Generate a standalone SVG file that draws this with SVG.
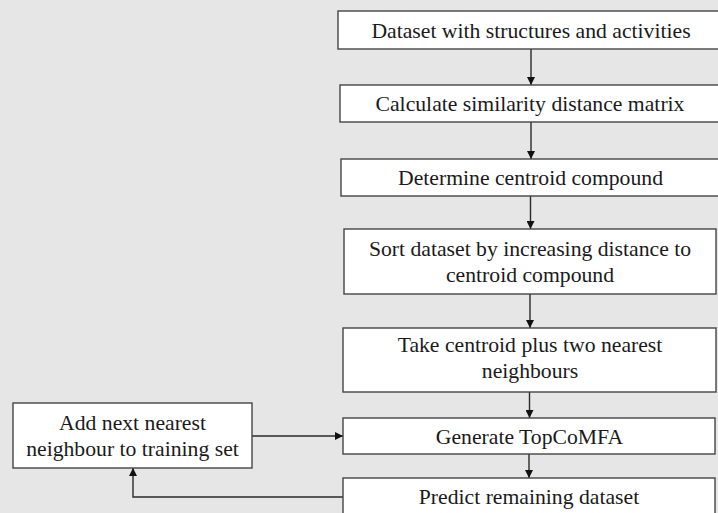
<svg xmlns="http://www.w3.org/2000/svg" width="718" height="513" viewBox="0 0 718 513">
  <style>
    .box { fill: #ffffff; stroke: #454545; stroke-width: 1.4; }
    .lbl { font-family: "Liberation Serif", "Times New Roman", serif; font-size: 21.7px; fill: #1a1a1a; text-anchor: middle; }
    .con { fill: none; stroke: #2a2a2a; stroke-width: 1.4; }
  </style>
  <defs>
    <marker id="arr" markerUnits="userSpaceOnUse" markerWidth="8" markerHeight="8" refX="8" refY="4" orient="auto">
      <path d="M0,0 L8,4 L0,8 z" fill="#111111"/>
    </marker>
  </defs>
  <rect x="0" y="0" width="718" height="513" fill="#e6e6e6"/>

  <g id="connectors">
    <line class="con" x1="531" y1="49" x2="531" y2="85" marker-end="url(#arr)"/>
    <line class="con" x1="531" y1="122" x2="531" y2="159" marker-end="url(#arr)"/>
    <line class="con" x1="530.5" y1="196" x2="530.5" y2="229" marker-end="url(#arr)"/>
    <line class="con" x1="530" y1="294" x2="530" y2="328" marker-end="url(#arr)"/>
    <line class="con" x1="529.5" y1="392" x2="529.5" y2="418" marker-end="url(#arr)"/>
    <line class="con" x1="529" y1="454" x2="529" y2="478" marker-end="url(#arr)"/>
    <line class="con" x1="252" y1="436" x2="343" y2="436" marker-end="url(#arr)"/>
    <polyline class="con" points="343,497 133,497 133,468" marker-end="url(#arr)"/>
  </g>

  <g id="n1">
    <rect class="box" x="338" y="11" width="385" height="38"/>
    <text class="lbl" x="531" y="37.5">Dataset with structures and activities</text>
  </g>
  <g id="n2">
    <rect class="box" x="340" y="85" width="383" height="37"/>
    <text class="lbl" x="530" y="111">Calculate similarity distance matrix</text>
  </g>
  <g id="n3">
    <rect class="box" x="341" y="159" width="382" height="37"/>
    <text class="lbl" x="530.5" y="185">Determine centroid compound</text>
  </g>
  <g id="n4">
    <rect class="box" x="344" y="229" width="372" height="65"/>
    <text class="lbl" x="530" y="256">Sort dataset by increasing distance to</text>
    <text class="lbl" x="530" y="281.5">centroid compound</text>
  </g>
  <g id="n5">
    <rect class="box" x="343" y="328" width="373" height="64"/>
    <text class="lbl" x="530" y="352">Take centroid plus two nearest</text>
    <text class="lbl" x="530" y="378">neighbours</text>
  </g>
  <g id="n6">
    <rect class="box" x="343" y="418" width="372" height="36"/>
    <text class="lbl" x="529.5" y="443.5">Generate TopCoMFA</text>
  </g>
  <g id="n7">
    <rect class="box" x="343" y="478" width="372" height="42"/>
    <text class="lbl" x="529" y="504">Predict remaining dataset</text>
  </g>
  <g id="n8">
    <rect class="box" x="13" y="403" width="239" height="65"/>
    <text class="lbl" x="132.5" y="429.5">Add next nearest</text>
    <text class="lbl" x="132.5" y="456">neighbour to training set</text>
  </g>
</svg>
